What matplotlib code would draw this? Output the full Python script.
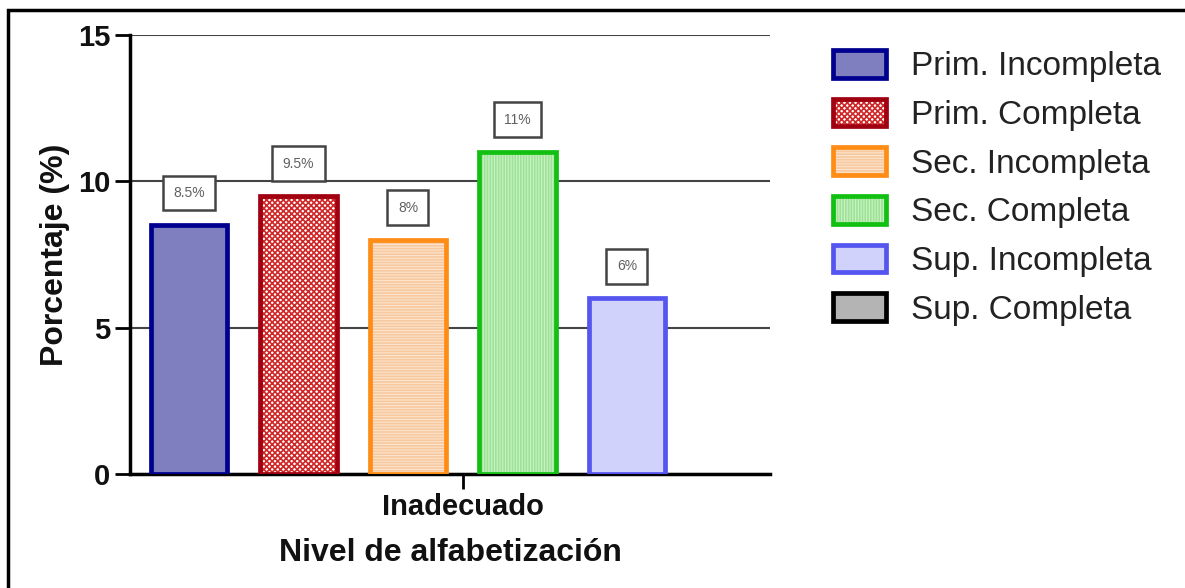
import matplotlib
matplotlib.use("Agg")
import matplotlib.pyplot as plt
from matplotlib.patches import Rectangle, Patch

plt.rcParams['font.family'] = ['Liberation Sans', 'DejaVu Sans']
plt.rcParams['hatch.linewidth'] = 1.2

grupos = ["Prim. Incompleta", "Prim. Completa", "Sec. Incompleta",
          "Sec. Completa", "Sup. Incompleta", "Sup. Completa"]
porcentajes = [8.5, 9.5, 8, 11, 6, 0]
etiquetas = ["8.5%", "9.5%", "8%", "11%", "6%", None]
categoria = "Inadecuado"

# relleno, borde, trama, color de trama
estilos = [
    ("#7f7fc0", "#000090", None, None),
    ("#ffffff", "#a00010", "xxxxxx", "#d02828"),
    ("#fde3cb", "#ff8c14", "------", "#f7c9a0"),
    ("#c9f2c0", "#12c012", "||||||", "#9ee29a"),
    ("#d0d2fc", "#5555f0", None, None),
    ("#b4b4b4", "#000000", None, None),
]

fig = plt.figure(figsize=(11.85, 5.88), dpi=100)
ax = fig.add_axes([0.1097, 0.194, 0.540, 0.7466])

handles = []
for i, (v, (fc, ec, h, hc)) in enumerate(zip(porcentajes, estilos)):
    if v > 0:
        if h:
            ax.bar(i, v, width=0.7, color=fc, edgecolor=hc, hatch=h,
                   linewidth=0, zorder=3)
        else:
            ax.bar(i, v, width=0.7, color=fc, linewidth=0, zorder=3)
        ax.bar(i, v, width=0.7, fill=False, edgecolor=ec,
               linewidth=3.4, zorder=4)
    fondo = Patch(facecolor=fc, edgecolor=hc if h else fc, hatch=h, linewidth=0)
    borde = Patch(fill=False, edgecolor=ec, linewidth=3.4)
    handles.append((fondo, borde))
    if etiquetas[i]:
        ax.text(i, v + 1.1, etiquetas[i], ha="center", va="center",
                fontsize=10, color="#606060", zorder=5,
                bbox=dict(boxstyle="square,pad=0.75", fc="white",
                          ec="#444444", lw=1.8))

ax.set_xlim(-0.539, 5.306)
ax.set_ylim(0, 15)
ax.set_yticks([0, 5, 10, 15])
ax.set_xticks([2.5])
ax.set_xticklabels([categoria], fontsize=20, fontweight="bold")
ax.grid(axis="y", color="#444444", linewidth=1.5, zorder=1)
for s in ["top", "right"]:
    ax.spines[s].set_visible(False)
for s in ["left", "bottom"]:
    ax.spines[s].set_linewidth(2.5)
ax.tick_params(axis="both", width=2, length=11, labelsize=21, pad=3,
               labelcolor="#111111")
for t in ax.get_yticklabels():
    t.set_fontweight("bold")
ax.set_ylabel("Porcentaje (%)", fontsize=23, fontweight="bold", labelpad=6,
              color="#111111")
ax.set_xlabel("Nivel de alfabetización", fontsize=23, fontweight="bold",
              labelpad=12, color="#111111")

leg = fig.legend(handles, grupos, loc="upper left",
                 bbox_to_anchor=(833 / 1185, 1 - 50 / 588), frameon=False,
                 borderpad=0, borderaxespad=0,
                 fontsize=24, handlelength=1.6, handleheight=0.9,
                 labelspacing=0.49, handletextpad=0.75)
for t in leg.get_texts():
    t.set_color("#222222")

# marco exterior
fig.patches.append(Rectangle((0.0068, -0.01), 1.0, 0.993,
                             transform=fig.transFigure, fill=False,
                             edgecolor="black", linewidth=2.5))

fig.savefig("out.png", dpi=100)
